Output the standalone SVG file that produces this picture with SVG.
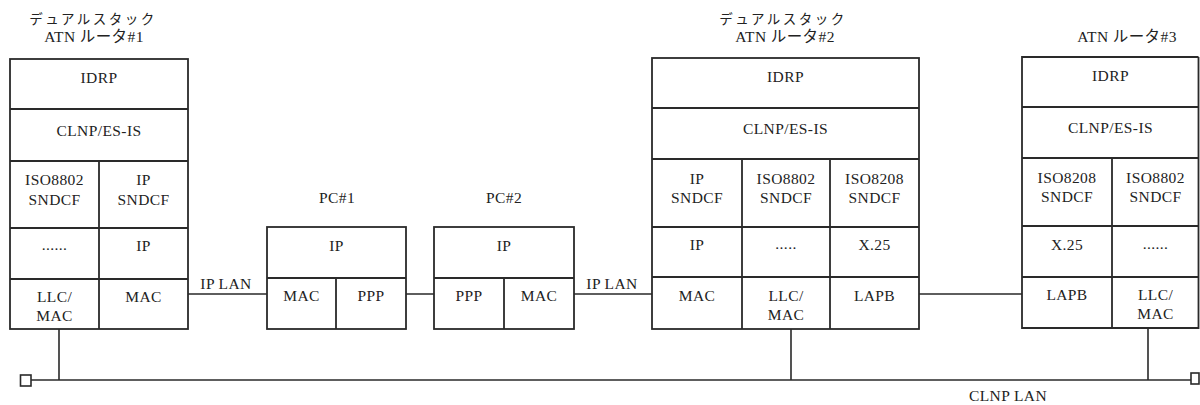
<svg xmlns="http://www.w3.org/2000/svg" width="1200" height="405" viewBox="0 0 1200 405">
<style>
.b{fill:none;stroke:#2a2a2a;stroke-width:1.8}
.l{fill:none;stroke:#2a2a2a;stroke-width:1.6}
text{font-family:"Liberation Serif","Noto Sans CJK JP",serif;font-size:15.5px;letter-spacing:0.4px;fill:#222;text-anchor:middle}
.jp{font-size:13.5px;letter-spacing:2.5px}
.at{font-size:15.5px;letter-spacing:0.4px}
</style>
<rect width="1200" height="405" fill="#fff"/>
<g id="router1">
<text class="jp" x="93" y="24">デュアルスタック</text>
<text class="at" x="94" y="42">ATN ルータ#1</text>
<rect class="b" x="10" y="59" width="178" height="270"/>
<path class="b" d="M10 109H188M10 161H188M10 228H188M10 279H188M99 161V329"/>
<text x="99" y="83">IDRP</text>
<text x="99" y="136">CLNP/ES-IS</text>
<text x="54.5" y="185">ISO8802</text>
<text x="54.5" y="205">SNDCF</text>
<text x="143.5" y="185">IP</text>
<text x="143.5" y="205">SNDCF</text>
<text x="54.5" y="250">......</text>
<text x="143.5" y="251">IP</text>
<text x="54.5" y="302">LLC/</text>
<text x="54.5" y="321">MAC</text>
<text x="143.5" y="302">MAC</text>
</g>
<g id="pc1">
<text x="337" y="203">PC#1</text>
<rect class="b" x="267" y="227" width="139" height="102"/>
<path class="b" d="M267 278H406M336 278V329"/>
<text x="336.5" y="251">IP</text>
<text x="301.5" y="301">MAC</text>
<text x="371" y="301">PPP</text>
</g>
<g id="pc2">
<text x="504" y="203">PC#2</text>
<rect class="b" x="434" y="227" width="140" height="102"/>
<path class="b" d="M434 278H574M504 278V329"/>
<text x="504" y="251">IP</text>
<text x="469" y="301">PPP</text>
<text x="539" y="301">MAC</text>
</g>
<g id="router2">
<text class="jp" x="783" y="24">デュアルスタック</text>
<text class="at" x="785" y="42">ATN ルータ#2</text>
<rect class="b" x="652" y="58" width="267" height="271"/>
<path class="b" d="M652 108H919M652 159H919M652 227H919M652 277H919M742 159V329M830 159V329"/>
<text x="785.5" y="82">IDRP</text>
<text x="785.5" y="134">CLNP/ES-IS</text>
<text x="697" y="184">IP</text>
<text x="697" y="203">SNDCF</text>
<text x="786" y="184">ISO8802</text>
<text x="786" y="203">SNDCF</text>
<text x="874.5" y="184">ISO8208</text>
<text x="874.5" y="203">SNDCF</text>
<text x="697" y="250">IP</text>
<text x="786" y="249">.....</text>
<text x="874.5" y="250">X.25</text>
<text x="697" y="301">MAC</text>
<text x="786" y="301">LLC/</text>
<text x="786" y="320">MAC</text>
<text x="874.5" y="301">LAPB</text>
</g>
<g id="router3">
<text class="at" x="1127" y="42">ATN ルータ#3</text>
<path class="b" d="M1198.5 57H1022V328H1198.5V57"/>
<path class="b" d="M1022 107H1199M1022 158H1199M1022 226H1199M1022 277H1199M1112 158V328"/>
<text x="1110.5" y="81">IDRP</text>
<text x="1110.5" y="133">CLNP/ES-IS</text>
<text x="1067" y="183">ISO8208</text>
<text x="1067" y="202">SNDCF</text>
<text x="1155.5" y="183">ISO8802</text>
<text x="1155.5" y="202">SNDCF</text>
<text x="1067" y="250">X.25</text>
<text x="1155.5" y="249">......</text>
<text x="1067" y="300">LAPB</text>
<text x="1155.5" y="300">LLC/</text>
<text x="1155.5" y="319">MAC</text>
</g>
<g id="connectors">
<path class="l" d="M188 294H267M406 294H434M574 294H652M919 294H1022"/>
<path class="l" d="M31 380H1191M59 329V380M791 329V380M1148 328V380"/>
<rect class="l" x="20.5" y="375" width="10.5" height="11"/>
<rect class="l" x="1191" y="373" width="8" height="11"/>
<text x="226" y="289">IP LAN</text>
<text x="612" y="289">IP LAN</text>
<text x="1008" y="401">CLNP LAN</text>
</g>
</svg>
